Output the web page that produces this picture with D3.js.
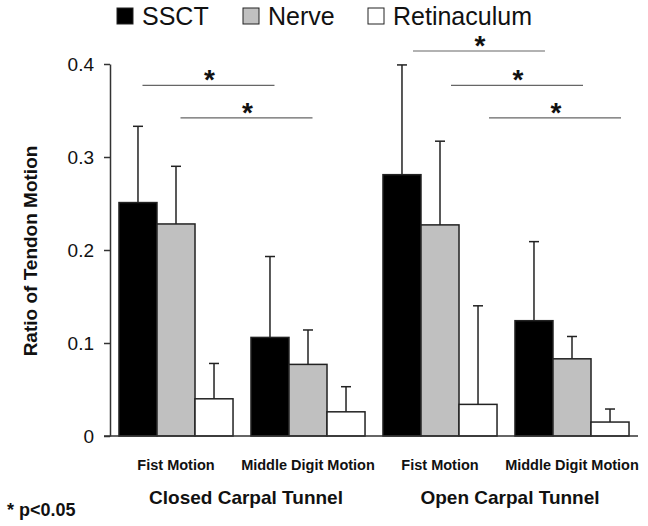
<!DOCTYPE html>
<html>
<head>
<meta charset="utf-8">
<script src="https://cdn.jsdelivr.net/npm/d3@7"></script>
<style>
  body { margin: 0; background: #fff; }
  svg { display: block; font-family: 'Liberation Sans', Arial, sans-serif; }
</style>
</head>
<body>
<div id="chart"></div>
<script>
'use strict';

// data
const motions = ['Fist Motion', 'Middle Digit Motion', 'Fist Motion', 'Middle Digit Motion'];
const tunnels = ['Closed Carpal Tunnel', 'Open Carpal Tunnel'];
const series = ['SSCT', 'Nerve', 'Retinaculum'];
const seriesColors = ['#000000', '#c0c0c0', '#ffffff'];

const ssctMean = [0.251, 0.106, 0.281, 0.124];
const nerveMean = [0.228, 0.077, 0.227, 0.083];
const retinMean = [0.040, 0.026, 0.034, 0.015];

const ssctSD = [0.082, 0.087, 0.118, 0.085];
const nerveSD = [0.062, 0.037, 0.090, 0.024];
const retinSD = [0.038, 0.027, 0.106, 0.014];

const yTicks = [0, 0.1, 0.2, 0.3, 0.4];

// significance brackets: same series, between two groups, at a y level
const sigFrom = [0, 0, 2, 2, 2];
const sigTo = [1, 1, 3, 3, 3];
const sigSeries = [0, 1, 0, 1, 2];
const sigLevel = [0.377, 0.342, 0.414, 0.377, 0.342];

const means = [ssctMean, nerveMean, retinMean];
const sds = [ssctSD, nerveSD, retinSD];

// flat table of bars
let bars = [];
motions.forEach((m, g) => {
  series.forEach((s, i) => {
    bars.push({ group: g, series: i, mean: means[i][g], sd: sds[i][g] });
  });
});

//set up svg
let width = 648;
let height = 526;

let svg = d3.select('#chart')
  .append('svg')
  .attr('width', width)
  .attr('height', height);

let axisX = 110;
let plotRight = 638;
let yBottom = 436;
let yTop = 64;

let x0 = d3.scaleBand()
  .domain(d3.range(motions.length))
  .range([axisX, plotRight])
  .paddingInner(0.136)
  .paddingOuter(0.068);

let x1 = d3.scaleBand()
  .domain(d3.range(series.length))
  .range([0, x0.bandwidth()]);

let y = d3.scaleLinear()
  .domain([0, 0.4])
  .range([yBottom, yTop]);

let barCenter = (g, i) => x0(g) + x1(i) + x1.bandwidth() / 2;

//BARS
svg.append('g')
  .selectAll('rect')
  .data(bars)
  .enter()
  .append('rect')
  .attr('x', d => x0(d.group) + x1(d.series))
  .attr('y', d => y(d.mean))
  .attr('width', x1.bandwidth())
  .attr('height', d => y(0) - y(d.mean))
  .attr('fill', d => seriesColors[d.series])
  .attr('stroke', '#222')
  .attr('stroke-width', 1.5);

//ERROR BARS
let err = svg.append('g')
  .attr('stroke', '#222')
  .attr('stroke-width', 1.5);

err.selectAll('line.v')
  .data(bars)
  .enter()
  .append('line')
  .attr('class', 'v')
  .attr('x1', d => barCenter(d.group, d.series))
  .attr('x2', d => barCenter(d.group, d.series))
  .attr('y1', d => y(d.mean))
  .attr('y2', d => y(d.mean + d.sd));

err.selectAll('line.cap')
  .data(bars)
  .enter()
  .append('line')
  .attr('class', 'cap')
  .attr('x1', d => barCenter(d.group, d.series) - 5)
  .attr('x2', d => barCenter(d.group, d.series) + 5)
  .attr('y1', d => y(d.mean + d.sd))
  .attr('y2', d => y(d.mean + d.sd));

//Y AXIS
let yAxis = d3.axisLeft(y)
  .tickValues(yTicks)
  .tickFormat(d => d === 0 ? '0' : d3.format('.1f')(d))
  .tickSizeInner(6)
  .tickSizeOuter(0)
  .tickPadding(10);

let yg = svg.append('g')
  .attr('transform', `translate(${axisX},0)`)
  .call(yAxis);
yg.select('.domain').attr('stroke', '#333').attr('stroke-width', 1.5);
yg.selectAll('.tick line').attr('stroke', '#333').attr('stroke-width', 1.5);
yg.selectAll('.tick text')
  .attr('font-size', 19)
  .attr('font-family', "'Liberation Sans', Arial, sans-serif")
  .attr('fill', '#111');

//baseline
svg.append('line')
  .attr('x1', axisX - 6)
  .attr('x2', plotRight)
  .attr('y1', y(0))
  .attr('y2', y(0))
  .attr('stroke', '#333')
  .attr('stroke-width', 1.5);

//y label
svg.append('text')
  .attr('transform', `translate(37, ${(yTop + yBottom) / 2 + 1}) rotate(-90)`)
  .attr('text-anchor', 'middle')
  .attr('font-size', 19)
  .attr('font-weight', 'bold')
  .attr('fill', '#111')
  .text('Ratio of Tendon Motion');

//group labels
svg.append('g')
  .selectAll('text')
  .data(motions)
  .enter()
  .append('text')
  .attr('x', (d, g) => x0(g) + x0.bandwidth() / 2)
  .attr('y', 470)
  .attr('text-anchor', 'middle')
  .attr('font-size', 14.5)
  .attr('font-weight', 'bold')
  .attr('fill', '#111')
  .text(d => d);

svg.append('g')
  .selectAll('text')
  .data(tunnels)
  .enter()
  .append('text')
  .attr('x', (d, t) => (x0(t * 2) + x0(t * 2 + 1) + x0.bandwidth()) / 2 + 4)
  .attr('y', 504)
  .attr('text-anchor', 'middle')
  .attr('font-size', 19)
  .attr('font-weight', 'bold')
  .attr('fill', '#111')
  .text(d => d);

svg.append('text')
  .attr('x', 7)
  .attr('y', 516)
  .attr('font-size', 18)
  .attr('font-weight', 'bold')
  .attr('fill', '#111')
  .text('* p<0.05');

//SIGNIFICANCE LINES
let sig = sigFrom.map((f, k) => ({ from: f, to: sigTo[k], s: sigSeries[k], level: sigLevel[k] }));
let nudge = d => d.from < 2 ? 4.5 : 11;

let sg = svg.append('g');
sg.selectAll('line')
  .data(sig)
  .enter()
  .append('line')
  .attr('x1', d => barCenter(d.from, d.s) + nudge(d))
  .attr('x2', d => barCenter(d.to, d.s) + nudge(d))
  .attr('y1', d => y(d.level))
  .attr('y2', d => y(d.level))
  .attr('stroke', '#666')
  .attr('stroke-width', 1.2);

sg.selectAll('text')
  .data(sig)
  .enter()
  .append('text')
  .attr('x', d => (barCenter(d.from, d.s) + barCenter(d.to, d.s)) / 2 + nudge(d) + 1)
  .attr('y', d => y(d.level) + 4)
  .attr('text-anchor', 'middle')
  .attr('font-size', 28)
  .attr('font-weight', 'bold')
  .attr('fill', '#111')
  .text('*');

//LEGEND
let legend = svg.append('g')
  .selectAll('g')
  .data(series)
  .enter()
  .append('g')
  .attr('transform', (d, i) => `translate(${[117, 243, 368][i]}, 8)`);

legend.append('rect')
  .attr('width', 16)
  .attr('height', 16)
  .attr('fill', (d, i) => seriesColors[i])
  .attr('stroke', '#222')
  .attr('stroke-width', 1);

legend.append('text')
  .attr('x', 25)
  .attr('y', 17)
  .attr('font-size', 25)
  .attr('fill', '#111')
  .text(d => d);
</script>
</body>
</html>
